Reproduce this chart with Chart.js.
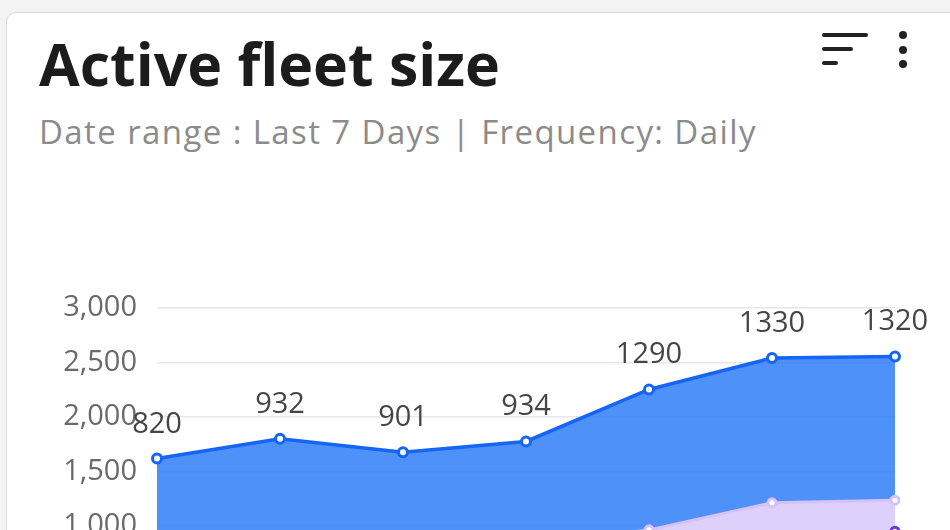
<!DOCTYPE html>
<html>
<head>
<meta charset="utf-8">
<script src="https://cdn.jsdelivr.net/npm/chart.js@4/dist/chart.umd.min.js"></script>
<style>
  html, body { margin: 0; padding: 0; width: 950px; height: 530px; overflow: hidden; background: #f3f3f3; }
  .card { position: absolute; left: 6px; top: 12px; width: 1000px; height: 700px; background: #fff;
          border: 1px solid #dadada; border-radius: 10px; box-sizing: border-box; }
  .title { position: absolute; left: 39px; top: 23px; font-family: "Open Sans", sans-serif; font-weight: 700;
           font-size: 59px; line-height: 80px; color: #1c1c1c; letter-spacing: 0px; white-space: nowrap; }
  .sub { position: absolute; left: 39px; top: 110px; font-family: "Open Sans", sans-serif; font-weight: 400;
         font-size: 33px; line-height: 44px; color: #8b8b8b; letter-spacing: 1.4px; white-space: nowrap; }
  .bar { position: absolute; height: 4px; background: #222; border-radius: 2px; }
  .dot { position: absolute; width: 8px; height: 8px; background: #222; border-radius: 50%; }
  #wrap { position: absolute; left: 0; top: 250px; width: 950px; height: 422px; }
</style>
</head>
<body>
<div class="card"></div>
<div class="title">Active fleet size</div>
<div class="sub">Date range : Last 7 Days | Frequency: Daily</div>
<div class="bar" style="left:822px; top:33px; width:46px;"></div>
<div class="bar" style="left:822px; top:47px; width:31px;"></div>
<div class="bar" style="left:822px; top:61px; width:16px;"></div>
<div class="dot" style="left:899px; top:31px;"></div>
<div class="dot" style="left:899px; top:46px;"></div>
<div class="dot" style="left:899px; top:60px;"></div>
<div id="wrap"><canvas id="c" width="950" height="422"></canvas></div>
<script>
const categories = ["Mon", "Tue", "Wed", "Thu", "Fri", "Sat", "Sun"];
const idleValues = [560, 610, 540, 590, 700, 900, 950];
const chargingValues = [237, 257, 235, 250, 262, 310, 285];
const activeValues = [820, 932, 901, 934, 1290, 1330, 1320];
const yTickMin = 0;
const yTickMax = 3000;
const yTickStep = 500;

const topLabels = {
  id: 'topLabels',
  afterDatasetsDraw(chart) {
    const ctx = chart.ctx;
    const meta = chart.getDatasetMeta(2);
    const ds = chart.data.datasets[2];
    ctx.save();
    ctx.font = '29px "Open Sans", sans-serif';
    ctx.fillStyle = '#454545';
    ctx.textAlign = 'center';
    ctx.textBaseline = 'alphabetic';
    meta.data.forEach((pt, i) => {
      ctx.fillText(String(ds.data[i]), pt.x, pt.y - 26);
    });
    ctx.restore();
  }
};

new Chart(document.getElementById('c'), {
  type: 'line',
  data: {
    labels: categories,
    datasets: [
      {
        label: 'Idle',
        data: idleValues,
        fill: 'origin',
        backgroundColor: 'rgba(140,95,235,0.85)',
        borderColor: '#6f36e0',
        borderWidth: 3,
        pointRadius: 4,
        pointBorderWidth: 3,
        pointBackgroundColor: '#fff',
        pointBorderColor: '#6f36e0',
        tension: 0
      },
      {
        label: 'Charging',
        data: chargingValues,
        fill: '-1',
        backgroundColor: 'rgba(219,205,251,0.95)',
        borderColor: '#d6c1fa',
        borderWidth: 3,
        pointRadius: 4,
        pointBorderWidth: 3,
        pointBackgroundColor: '#fff',
        pointBorderColor: '#d6c1fa',
        tension: 0
      },
      {
        label: 'Active',
        data: activeValues,
        fill: '-1',
        backgroundColor: 'rgba(39,121,248,0.82)',
        borderColor: '#1565f7',
        borderWidth: 3.5,
        pointRadius: 4.5,
        pointBorderWidth: 3,
        pointBackgroundColor: '#fff',
        pointBorderColor: '#1565f7',
        tension: 0
      }
    ]
  },
  options: {
    responsive: false,
    animation: false,
    layout: { padding: { left: 0, right: 55, top: 58, bottom: 16 } },
    plugins: { legend: { display: false }, tooltip: { enabled: false } },
    scales: {
      x: { display: false, offset: false },
      y: {
        stacked: true,
        min: yTickMin,
        max: yTickMax,
        ticks: { stepSize: yTickStep, padding: 20, color: '#6a6a6a', font: { family: 'Open Sans', size: 29 } },
        grid: { color: '#e3e8f0', lineWidth: 1.5, drawTicks: false },
        border: { display: false },
        afterFit(scale) { scale.width = 157; }
      }
    }
  },
  plugins: [topLabels]
});
</script>
</body>
</html>
